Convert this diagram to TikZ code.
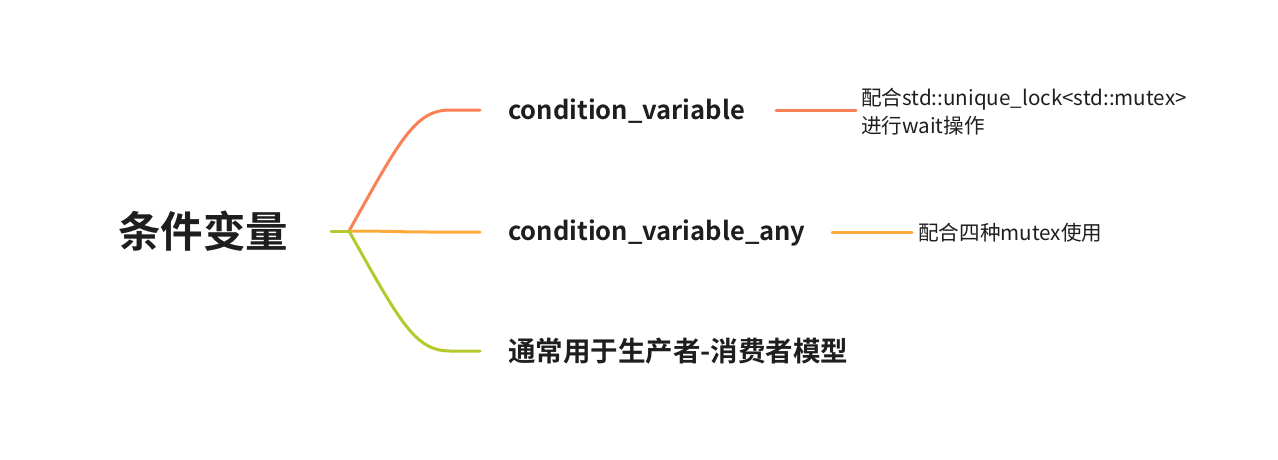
\documentclass[tikz,border=0pt]{standalone}
\usepackage{fontspec}
\setmainfont{Noto Sans CJK SC}
\newfontfamily\cjkb{Noto Sans CJK SC Bold}
\usetikzlibrary{positioning}
\definecolor{cA}{HTML}{FA8155}
\definecolor{cB}{HTML}{FFAA3B}
\definecolor{cC}{HTML}{B5C92C}
\definecolor{txt}{HTML}{1E1E1E}
\begin{document}
\begin{tikzpicture}[x=1pt,y=-1pt,
  rootlbl/.style={inner sep=0pt,anchor=west,text=txt,font=\cjkb\fontsize{42.5}{48}\selectfont},
  mainlbl/.style={inner sep=0pt,anchor=west,text=txt,font=\cjkb\fontsize{25.5}{30}\selectfont},
  cjklbl/.style={inner sep=0pt,anchor=west,text=txt,font=\cjkb\fontsize{27.5}{30}\selectfont},
  leaflbl/.style={inner sep=0pt,anchor=west,text=txt,align=left,font=\fontsize{20.6}{28}\selectfont},
  branch/.style={line width=3pt,line cap=round}]
\useasboundingbox (0,0) rectangle (1278,459);
\node[rootlbl] (root) at (118,231) {条件变量};
\coordinate (rootend) at (331,231);
\coordinate (fork) at (349,231);
\node[mainlbl] (n1) at (508,111) {condition\_variable};
\node[mainlbl] (n2) at (508,233) {condition\_variable\_any};
\node[cjklbl] (n3) at (508,351) {通常用于生产者-消费者模型};
\coordinate (e1) at (480,110);
\coordinate (e2) at (480,232);
\coordinate (e3) at (480,351);
\node[leaflbl] (l1) at (861,112) {配合std::unique\_lock<std::mutex>\\进行wait操作};
\node[leaflbl] (l2) at (918,233) {配合四种mutex使用};
\coordinate (s1) at (776,110);
\coordinate (t1) at (856,110);
\coordinate (s2) at (832,232);
\coordinate (t2) at (912,232);
\draw[branch,cC] (rootend) -- (fork);
\draw[branch,cA] (fork) .. controls (400,140) and (415,110) .. (450,110) -- (e1);
\draw[branch,cB] (fork) .. controls (390,231) and (400,232) .. (430,232) -- (e2);
\draw[branch,cC] (fork) .. controls (400,322) and (415,351) .. (450,351) -- (e3);
\draw[branch,cA] (s1) -- (t1);
\draw[branch,cB] (s2) -- (t2);
\end{tikzpicture}
\end{document}
